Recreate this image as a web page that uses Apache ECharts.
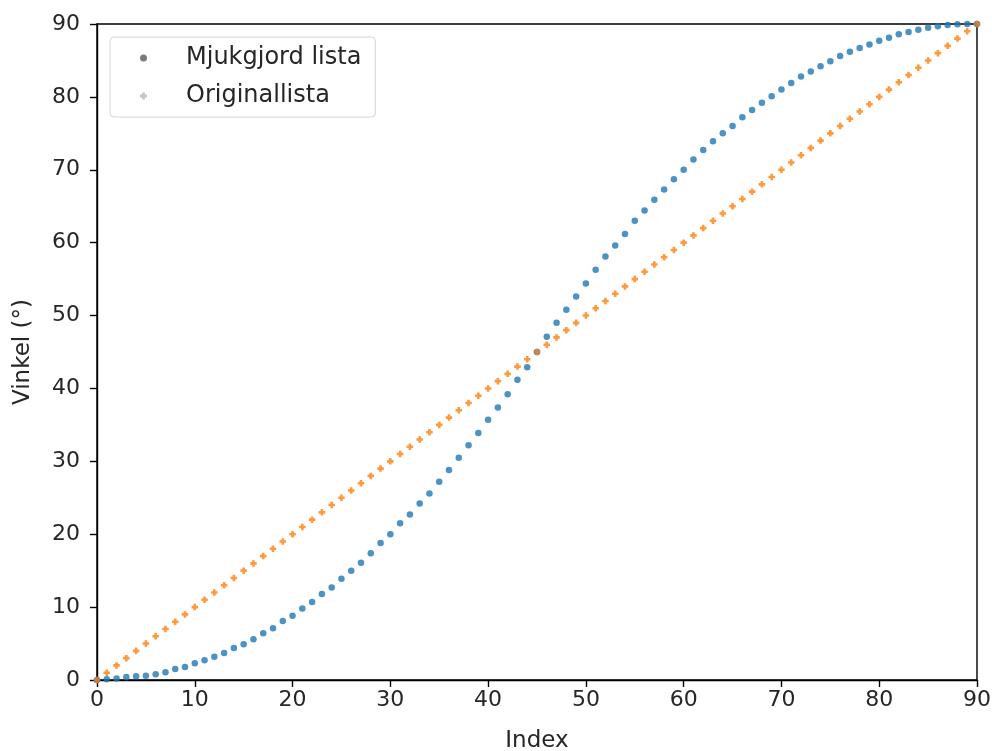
<!DOCTYPE html>
<html>
<head>
<meta charset="utf-8">
<script src="https://cdn.jsdelivr.net/npm/echarts@6/dist/echarts.min.js"></script>
<style>
  html, body { margin: 0; padding: 0; background: #fff; }
  #chart { width: 992px; height: 751px; }
</style>
</head>
<body>
<div id="chart"></div>
<script>
// Index 0..90 shared by both series
const indices = Array.from({ length: 91 }, (_, i) => i);

// Smoothed angle list (degrees)
const smoothed = [
  0, 0.1, 0.2, 0.4, 0.5, 0.6, 0.8, 1.05, 1.5, 1.8,
  2.3, 2.7, 3.2, 3.7, 4.4, 4.9, 5.6, 6.4, 7.1, 8.1,
  8.8, 9.8, 10.7, 11.8, 12.7, 13.9, 15.0, 16.1, 17.4, 18.8,
  20.0, 21.5, 22.7, 24.2, 25.6, 27.2, 28.8, 30.5, 32.2, 33.9,
  35.7, 37.4, 39.2, 41.2, 42.9, 45.0, 47.1, 49.0, 50.8, 52.6,
  54.4, 56.3, 58.1, 59.6, 61.2, 63.0, 64.4, 65.9, 67.3, 68.7,
  70.0, 71.4, 72.7, 73.9, 75.0, 76.0, 77.2, 78.2, 79.2, 80.1,
  81.0, 81.9, 82.8, 83.5, 84.2, 84.9, 85.6, 86.2, 86.7, 87.2,
  87.7, 88.1, 88.6, 88.9, 89.2, 89.5, 89.7, 89.85, 89.95, 90, 90
];

// Original angle list (degrees)
const original = [
  0, 1, 2, 3, 4, 5, 6, 7, 8, 9,
  10, 11, 12, 13, 14, 15, 16, 17, 18, 19,
  20, 21, 22, 23, 24, 25, 26, 27, 28, 29,
  30, 31, 32, 33, 34, 35, 36, 37, 38, 39,
  40, 41, 42, 43, 44, 45, 46, 47, 48, 49,
  50, 51, 52, 53, 54, 55, 56, 57, 58, 59,
  60, 61, 62, 63, 64, 65, 66, 67, 68, 69,
  70, 71, 72, 73, 74, 75, 76, 77, 78, 79,
  80, 81, 82, 83, 84, 85, 86, 87, 88, 89, 90
];

const xTicks = [0, 10, 20, 30, 40, 50, 60, 70, 80, 90];
const yTicks = [0, 10, 20, 30, 40, 50, 60, 70, 80, 90];

const seriesNames = ['Mjukgjord lista', 'Originallista'];

const FONT = 'DejaVu Sans';
const FS = 22;
const TEXT = '#262626';
const PLUS = 'path://M3,0H7V3H10V7H7V10H3V7H0V3H3Z';

const chart = echarts.init(document.getElementById('chart'), null, { renderer: 'canvas' });

const axisCommon = {
  type: 'value',
  min: 0,
  max: 90,
  interval: 10,
  axisLine: { show: true, onZero: false, lineStyle: { color: '#000', width: 1.4 } },
  axisTick: { show: true, inside: false, length: 7, lineStyle: { color: '#000', width: 1.4 } },
  splitLine: { show: false },
  nameTextStyle: { fontFamily: FONT, fontSize: 23, color: TEXT }
};

chart.setOption({
  animation: false,
  backgroundColor: '#fff',
  grid: {
    left: 97, right: 15, top: 24, bottom: 71,
    containLabel: false,
    outerBoundsMode: 'none',
    show: true, borderColor: '#000', borderWidth: 1.4, backgroundColor: 'transparent'
  },
  legend: {
    left: 110,
    top: 37,
    orient: 'vertical',
    padding: [9, 14, 9, 30],
    itemWidth: 7,
    itemHeight: 7,
    itemGap: 14,
    borderColor: '#d4d4d4',
    borderWidth: 1,
    borderRadius: 4,
    backgroundColor: '#fff',
    textStyle: { fontFamily: FONT, fontSize: 24, color: TEXT, padding: [0, 0, 0, 34] },
    data: [
      { name: seriesNames[0], icon: 'circle', itemStyle: { color: '#5a5a5a' } },
      { name: seriesNames[1], icon: PLUS, itemStyle: { color: '#b5b5b5' } }
    ]
  },
  xAxis: Object.assign({}, axisCommon, {
    name: 'Index',
    nameLocation: 'middle',
    nameGap: 50,
    axisLabel: {
      fontFamily: FONT, fontSize: FS, color: TEXT, margin: 9,
      customValues: xTicks
    }
  }),
  yAxis: Object.assign({}, axisCommon, {
    name: 'Vinkel (°)',
    nameLocation: 'middle',
    nameGap: 62,
    axisLabel: {
      fontFamily: FONT, fontSize: FS, color: TEXT, margin: 17,
      customValues: yTicks
    }
  }),
  series: [
    {
      name: seriesNames[0],
      type: 'scatter',
      symbol: 'circle',
      symbolSize: 6.5,
      itemStyle: { color: '#1f77b4' },
      data: indices.map((x, i) => [x, smoothed[i]])
    },
    {
      name: seriesNames[1],
      type: 'scatter',
      symbol: PLUS,
      symbolSize: 6.5,
      itemStyle: { color: '#ff7f0e' },
      data: indices.map((x, i) => [x, original[i]])
    }
  ]
});
</script>
</body>
</html>
